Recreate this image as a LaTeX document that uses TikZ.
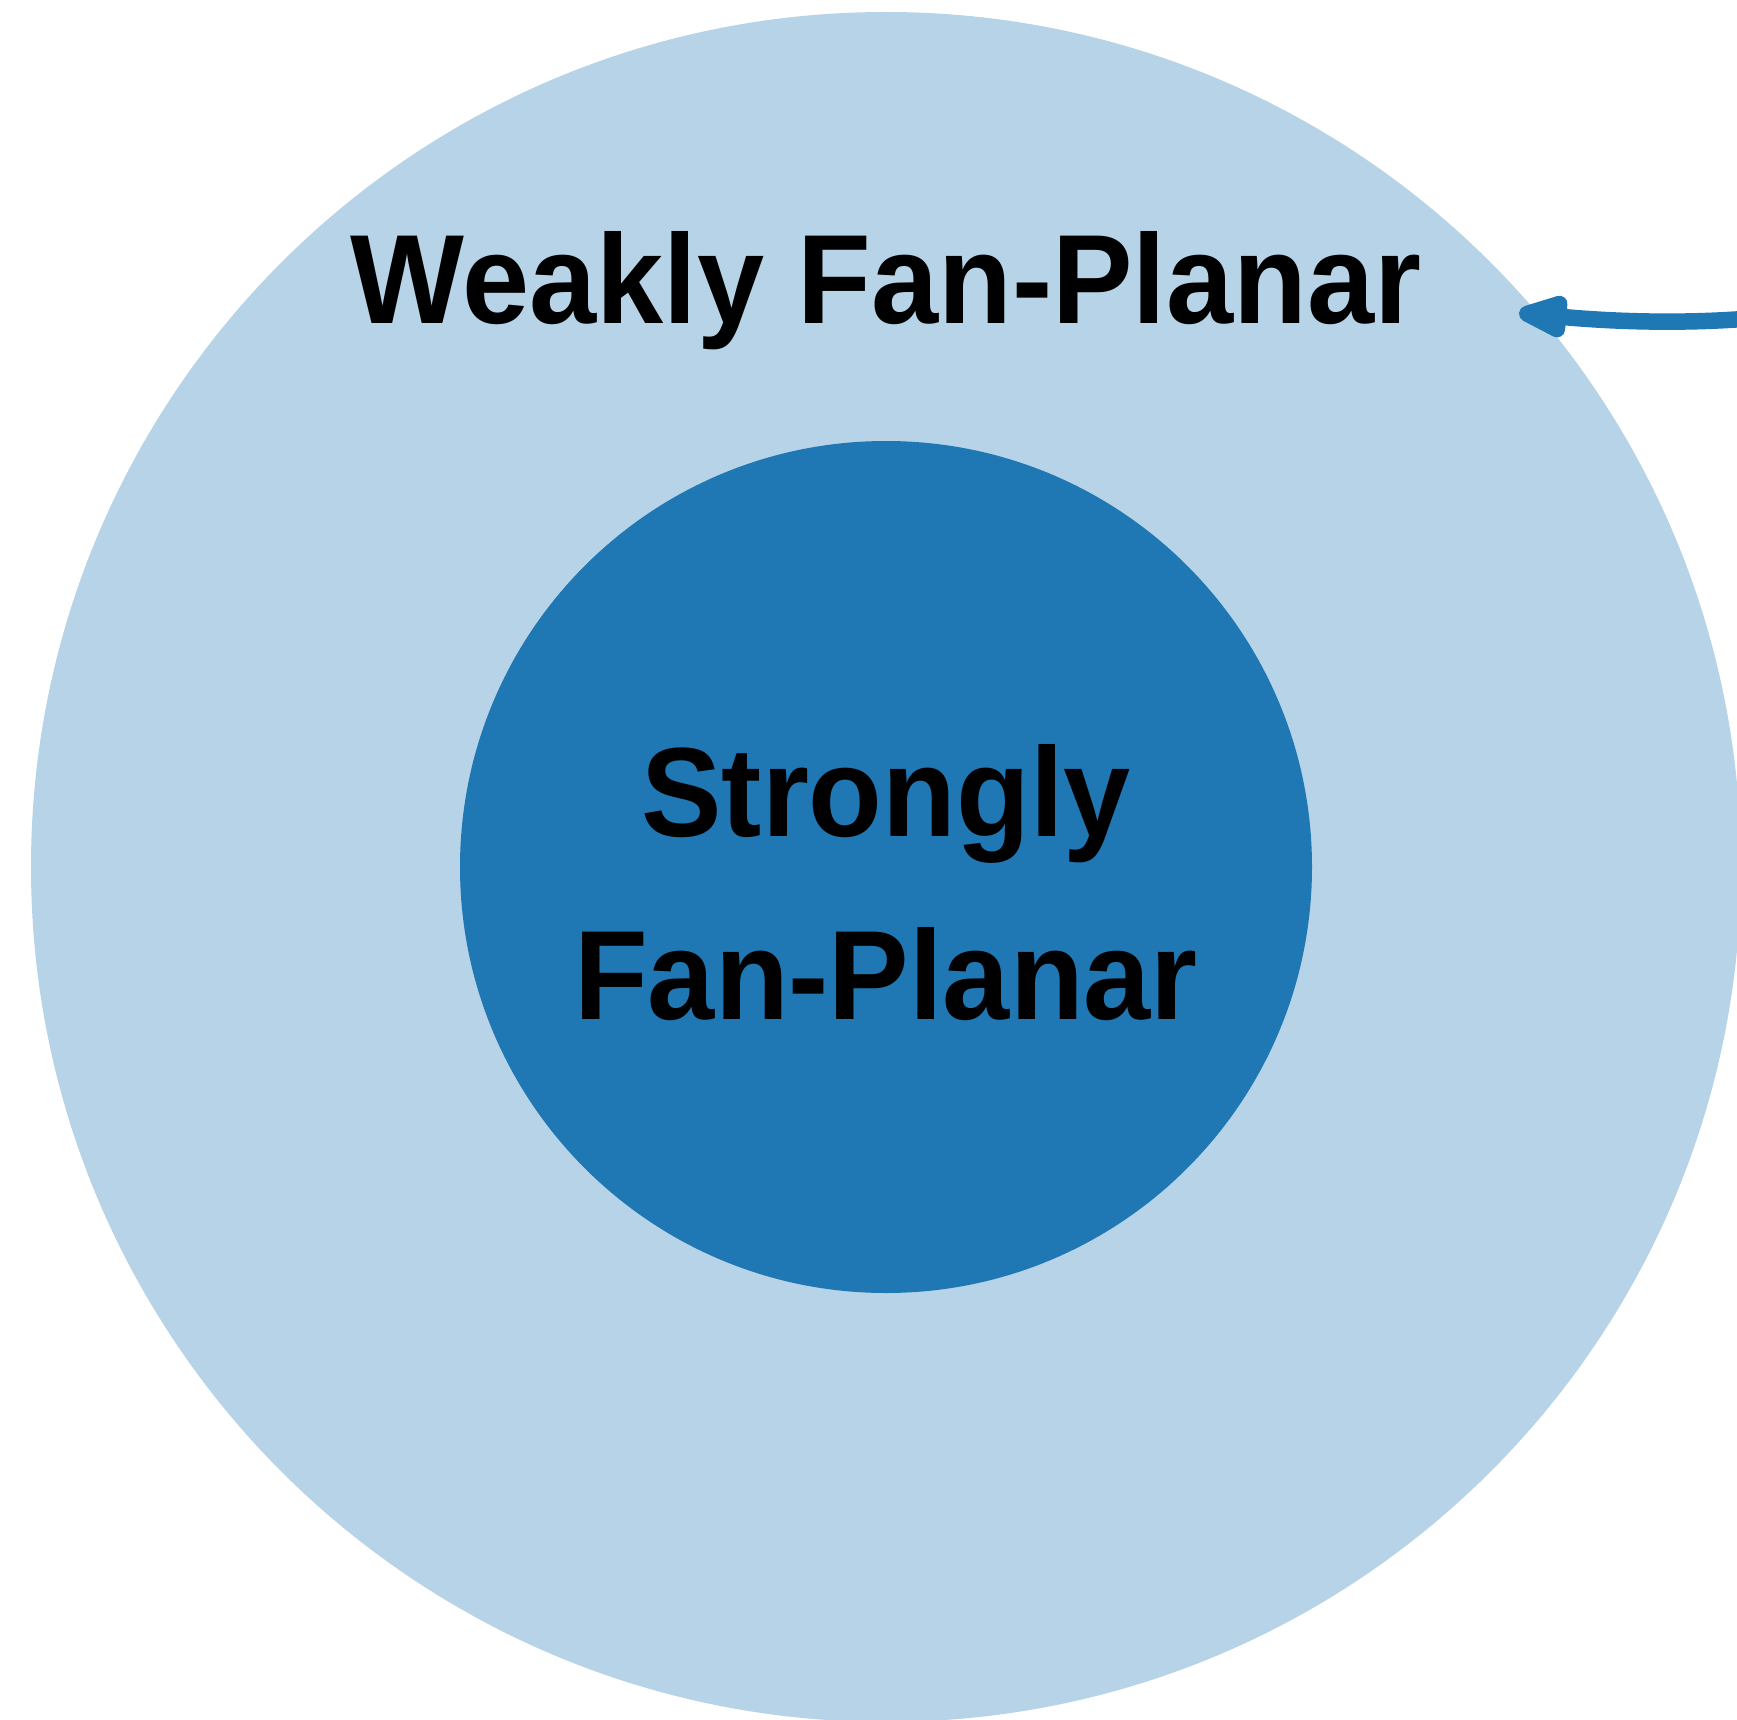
\documentclass[tikz,border=0pt]{standalone}
\usepackage{fontspec}
\newfontfamily\labfont{Liberation Sans}[FakeStretch=0.95]
\usetikzlibrary{arrows.meta}
\definecolor{lightblue}{RGB}{183,211,231}
\definecolor{tabblue}{RGB}{31,119,180}
\tikzset{
  setcircle/.style={circle, inner sep=0pt, draw=none},
  setlabel/.style={font=\labfont\bfseries\fontsize{127}{183}\selectfont, text=black, anchor=base, inner sep=0pt},
  pointer/.style={draw=tabblue, line width=16.5pt, -{Triangle[length=64pt,width=44pt,round,fill=tabblue]}}
}
\begin{document}
\begin{tikzpicture}[x=1pt,y=-1pt]
\useasboundingbox (0,0) rectangle (1737,1720);
\node[setcircle, fill=lightblue, minimum size=1710pt] (weak) at (886,867) {};
\node[setcircle, fill=tabblue, minimum size=852pt] (strong) at (886,867) {};
\node[setlabel] (weaklabel) at (886,323.5) {Weakly Fan-Planar};
\node[setlabel] (stronglabel1) at (886,836) {Strongly};
\node[setlabel] (stronglabel2) at (886,1019) {Fan-Planar};
\coordinate (src) at (1900,292);
\coordinate (tip) at (1519,313);
\draw[pointer] (src) .. controls (1780,328) and (1640,324) .. (tip);
\end{tikzpicture}
\end{document}
